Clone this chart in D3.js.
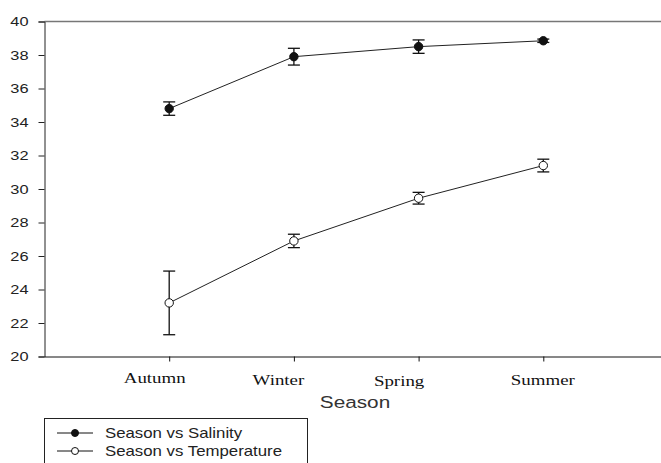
<!DOCTYPE html>
<html>
<head>
<meta charset="utf-8">
<script src="https://cdn.jsdelivr.net/npm/d3@7/dist/d3.min.js"></script>
<style>
html,body{margin:0;padding:0;background:#fff;}
svg{display:block;}
</style>
</head>
<body>
<svg id="chart" width="661" height="463"></svg>
<script>
const seasons = ["Autumn", "Winter", "Spring", "Summer"];
const salinity = [34.8, 37.9, 38.5, 38.85];
const salinityErr = [0.4, 0.5, 0.4, 0.1];
const temperature = [23.2, 26.9, 29.45, 31.4];
const temperatureErr = [1.9, 0.4, 0.35, 0.38];
const yTicks = [20, 22, 24, 26, 28, 30, 32, 34, 36, 38, 40];
const seriesNames = ["Season vs Salinity", "Season vs Temperature"];

// layout (not data)
const stretch = 1.26;
const xLabelDx = [-15, -16, -20, -1];
const xLabelBase = [27, 29, 30, 29];

const svg = d3.select("#chart");
const mLeft = 44.5, mRight = 668, mTop = 21.5, mBottom = 356.5;

const x = d3.scalePoint().domain(seasons).range([mLeft, mRight]).padding(1);
const y = d3.scaleLinear().domain([20, 40]).range([mBottom, mTop]);

// top frame line
svg.append("line")
  .attr("x1", mLeft).attr("x2", 661).attr("y1", mTop).attr("y2", mTop)
  .attr("stroke", "#777").attr("stroke-width", 1.6);

// y axis
const yAxis = svg.append("g").attr("transform", `translate(${mLeft},0)`)
  .call(d3.axisLeft(y).tickValues(yTicks).tickSize(6).tickPadding(10).tickFormat(d3.format("d")));
yAxis.select(".domain").attr("stroke", "#222");
yAxis.selectAll(".tick line").attr("stroke", "#222");
yAxis.selectAll("text").attr("font-family", "Liberation Sans, Arial, sans-serif")
  .attr("font-size", 13).attr("fill", "#222")
  .attr("x", -16 / stretch).attr("transform", `scale(${stretch},1)`);

// x axis
const xAxis = svg.append("g").attr("transform", `translate(0,${mBottom})`)
  .call(d3.axisBottom(x).tickSize(5).tickSizeOuter(0));
xAxis.select(".domain").attr("stroke", "#111");
xAxis.selectAll(".tick line").attr("stroke", "#111");
xAxis.selectAll(".tick text")
  .attr("font-family", "Liberation Serif, Times New Roman, serif")
  .attr("font-size", 15).attr("fill", "#111")
  .attr("dy", null)
  .attr("y", (d, i) => xLabelBase[i])
  .attr("x", (d, i) => xLabelDx[i] / stretch)
  .attr("transform", `scale(${stretch},1)`);

svg.append("text").attr("transform", `translate(355,408) scale(${stretch},1)`)
  .attr("text-anchor", "middle")
  .attr("font-family", "Liberation Sans, Arial, sans-serif").attr("font-size", 16.5)
  .attr("fill", "#333").text("Season");

function drawSeries(vals, errs, fill) {
  const g = svg.append("g");
  const line = d3.line().x((d, i) => x(seasons[i])).y(d => y(d));
  g.append("path").datum(vals).attr("d", line).attr("fill", "none")
    .attr("stroke", "#222").attr("stroke-width", 1);
  const cap = 6;
  vals.forEach((v, i) => {
    const cx = x(seasons[i]);
    const y1 = y(v + errs[i]), y2 = y(v - errs[i]);
    g.append("line").attr("x1", cx).attr("x2", cx).attr("y1", y1).attr("y2", y2)
      .attr("stroke", "#111").attr("stroke-width", 1.3);
    [y1, y2].forEach(yy => g.append("line").attr("x1", cx - cap).attr("x2", cx + cap)
      .attr("y1", yy).attr("y2", yy).attr("stroke", "#111").attr("stroke-width", 1.3));
  });
  g.selectAll("circle").data(vals).join("circle")
    .attr("cx", (d, i) => x(seasons[i])).attr("cy", d => y(d)).attr("r", 4.2)
    .attr("fill", fill).attr("stroke", "#111").attr("stroke-width", 1);
}
drawSeries(salinity, salinityErr, "#111");
drawSeries(temperature, temperatureErr, "#fff");

// legend
const lg = svg.append("g");
lg.append("rect").attr("x", 44.5).attr("y", 418.5).attr("width", 263).attr("height", 60)
  .attr("fill", "#fff").attr("stroke", "#222").attr("stroke-width", 1);
seriesNames.forEach((name, i) => {
  const ly = 433 + i * 18;
  lg.append("line").attr("x1", 57).attr("x2", 93).attr("y1", ly).attr("y2", ly)
    .attr("stroke", "#111").attr("stroke-width", 1);
  lg.append("circle").attr("cx", 75).attr("cy", ly).attr("r", 3.5)
    .attr("fill", i === 0 ? "#111" : "#fff").attr("stroke", "#111");
  lg.append("text").attr("transform", `translate(105,${ly + 5}) scale(1.2,1)`)
    .attr("font-family", "Liberation Sans, Arial, sans-serif").attr("font-size", 14)
    .attr("fill", "#222").text(name);
});
</script>
</body>
</html>
